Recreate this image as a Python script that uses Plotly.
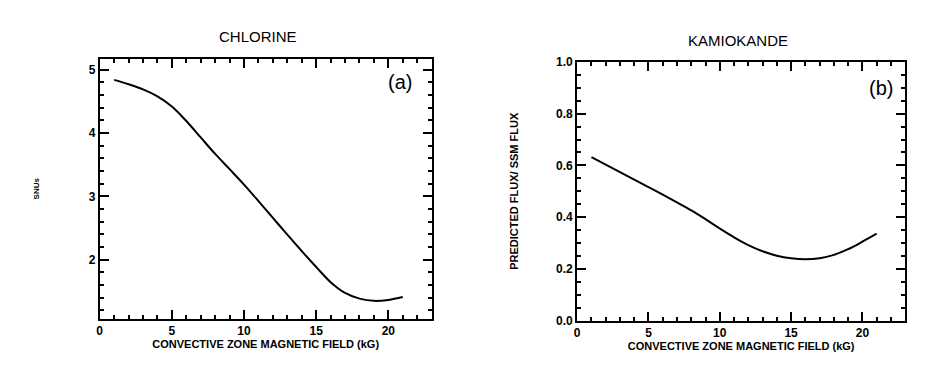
import plotly.graph_objects as go

# values
field_kg = [1, 2, 3, 4, 5, 6, 7, 8, 9, 10, 11, 12, 13, 14, 15, 16, 17, 18, 19, 20, 21]
chlorine_snu = [4.84, 4.77, 4.69, 4.58, 4.42, 4.19, 3.93, 3.67, 3.43, 3.185, 2.925,
                2.66, 2.395, 2.135, 1.885, 1.645, 1.475, 1.385, 1.35, 1.365, 1.41]
kamioka_ratio = [0.632, 0.603, 0.574, 0.545, 0.516, 0.487, 0.457, 0.426, 0.392, 0.356, 0.322,
                 0.292, 0.268, 0.251, 0.241, 0.237, 0.241, 0.254, 0.276, 0.305, 0.336]
x_ticks = [0, 5, 10, 15, 20]
y_ticks_a = [2, 3, 4, 5]
y_ticks_b = [0.0, 0.2, 0.4, 0.6, 0.8, 1.0]

W, H = 945, 365
OFF_X = 8          # page body margin
OFF_Y, SY = 14, 0.963  # vertical placement as it lands in the screenshot
FONT = "Liberation Sans"

def fx(p):
    return (p - OFF_X) / W

def fy(p):
    return 1 - (p - OFF_Y) / SY / H

fig = go.Figure()
fig.add_trace(go.Scatter(x=field_kg, y=chlorine_snu, mode="lines", line=dict(color="black", width=2, shape="spline"),
                         xaxis="x", yaxis="y", showlegend=False))
fig.add_trace(go.Scatter(x=field_kg, y=kamioka_ratio, mode="lines", line=dict(color="black", width=2, shape="spline"),
                         xaxis="x2", yaxis="y2", showlegend=False))

def axis_style(**kw):
    d = dict(showline=True, linecolor="black", linewidth=2, mirror="allticks", ticks="inside",
             ticklen=9, tickwidth=2, tickcolor="black", showgrid=False, zeroline=False,
             tickfont=dict(family=FONT, size=12, color="black", weight="bold"))
    d.update(kw)
    return d

def minor(step):
    return dict(dtick=step, ticks="inside", ticklen=4, tickwidth=2, tickcolor="black")

xt = dict(family=FONT, size=11, color="black", weight="bold")
fig.update_layout(
    width=W, height=H, margin=dict(l=0, r=0, t=0, b=0),
    plot_bgcolor="white", paper_bgcolor="white",
    xaxis=axis_style(domain=[fx(97), fx(430)], range=[0, 23], tickvals=x_ticks, anchor="y", minor=minor(1),
                     title=dict(text="CONVECTIVE ZONE MAGNETIC FIELD (kG)", font=xt, standoff=1)),
    yaxis=axis_style(domain=[fy(318), fy(58)], range=[1.07, 5.17], tickvals=y_ticks_a, anchor="x", minor=minor(0.2),
                     title=dict(text="SNUs", font=dict(family=FONT, size=8, color="black", weight="bold"), standoff=48)),
    xaxis2=axis_style(domain=[fx(576), fx(905)], range=[0, 23], tickvals=x_ticks, anchor="y2", minor=minor(1),
                      title=dict(text="CONVECTIVE ZONE MAGNETIC FIELD (kG)", font=xt, standoff=1)),
    yaxis2=axis_style(domain=[fy(320), fy(61)], range=[0, 1], tickvals=y_ticks_b, tickformat=".1f", anchor="x2",
                      minor=minor(0.05),
                      title=dict(text="PREDICTED FLUX/ SSM FLUX", font=xt, standoff=35)),
)

for txt, cx, cy in [("CHLORINE", 256, 36), ("KAMIOKANDE", 737, 40)]:
    fig.add_annotation(text=txt, x=fx(cx), y=fy(cy), xref="paper", yref="paper",
                       xanchor="center", yanchor="middle", showarrow=False,
                       font=dict(family=FONT, size=15, color="black"))
fig.add_annotation(text="(a)", x=20.8, y=4.8, xref="x", yref="y", showarrow=False,
                   xanchor="center", yanchor="middle", font=dict(family=FONT, size=20, color="black"))
fig.add_annotation(text="(b)", x=21.3, y=0.9, xref="x2", yref="y2", showarrow=False,
                   xanchor="center", yanchor="middle", font=dict(family=FONT, size=20, color="black"))

fig.write_html("out.html")
